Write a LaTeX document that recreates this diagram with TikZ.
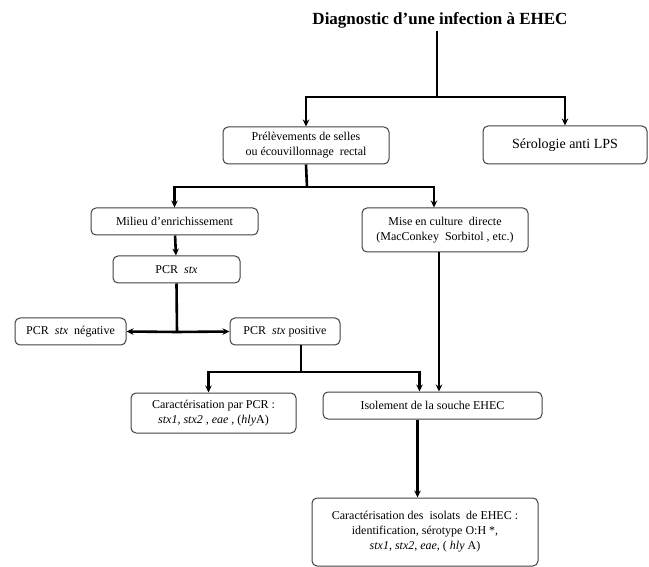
\documentclass[tikz,border=0pt]{standalone}
\usepackage{fontspec}
\setmainfont{Liberation Serif}
\usetikzlibrary{arrows.meta}
\tikzset{box/.style={draw=black!75,line width=1pt,rounded corners=5pt,align=center,inner sep=2pt,font=\fontsize{12}{15}\selectfont}}

\begin{document}
\begin{tikzpicture}[x=1pt,y=-1pt,
        link/.style={line width=2.6pt},
        arr/.style={line width=2.6pt,-{Stealth[length=7pt,width=6.5pt]}}]
    \useasboundingbox (0,0) rectangle (649,567);
        \node (title) at (440,20) {\fontsize{17}{19}\selectfont\bfseries Diagnostic d'une infection à EHEC};
        \node[box,minimum width=166pt,minimum height=37pt] (prel) at (306,145.5) {Prélèvements de selles\\ou écouvillonnage\ \ rectal};
        \node[box,minimum width=164pt,minimum height=38pt,font=\fontsize{14}{16}\selectfont] (sero) at (565,145) {Sérologie anti LPS};
        \node[box,minimum width=167pt,minimum height=27pt] (milieu) at (174.5,221.5) {Milieu d'enrichissement};
        \node[box,minimum width=166pt,minimum height=44pt] (mise) at (445,230) {Mise\ en culture\ \ directe\\(MacConkey\ \ Sorbitol , etc.)};
        \node[box,minimum width=127pt,minimum height=27pt] (pcr) at (176.5,269.5) {PCR\ \ \textit{stx}};
        \node[box,minimum width=111pt,minimum height=27pt] (neg) at (70.5,331.5) {PCR\ \ \textit{stx}\ \ négative};
        \node[box,minimum width=110pt,minimum height=27pt] (pos) at (285,331.5) {PCR\ \ \textit{stx} positive};
        \node[box,minimum width=165pt,minimum height=40pt] (carpcr) at (213.5,413) {Caractérisation par PCR :\\\textit{stx1}, \textit{stx2} , \textit{eae} , (\textit{hly}A)};
        \node[box,minimum width=219pt,minimum height=27pt] (isol) at (432.5,405.5) {Isolement de la souche EHEC};
        \node[box,minimum width=226pt,minimum height=68pt] (isolats) at (425,532) {Caractérisation des\ \ isolats\ \ de EHEC :\\identification, sérotype O:H *,\\\textit{stx1}, \textit{stx2}, \textit{eae}, ( \textit{hly} A)};

        \coordinate (j1) at (437,97);
        \coordinate (j2) at (307,187);
        \coordinate (j3) at (177,332);
        \coordinate (j4) at (301,372);

        \draw[link] (j1 |- title.south) -- (j1);
        \draw[arr] (j1) -| (prel.north);
        \draw[arr] (j1) -| (sero.north);
        \draw[link] (prel.south) -- (j2);
        \draw[arr] (j2) -| (milieu.north);
        \draw[arr] (j2) -| ([xshift=-11pt]mise.north);
        \draw[arr] (milieu) -- (pcr);
        \draw[link] (pcr.south) -- (j3);
        \draw[arr] (j3) -- (neg.east);
        \draw[arr] (j3) -- (pos.west);
        \draw[link] ([xshift=16pt]pos.south) -- (j4);
        \draw[arr] (j4) -| ([xshift=-5pt]carpcr.north);
        \draw[arr] (j4) -| ([xshift=-13pt]isol.north);
        \draw[arr] ([xshift=-6pt]mise.south) -- ([xshift=-6pt]mise.south |- isol.north);
        \draw[arr] ([xshift=-15pt]isol.south) -- ([xshift=-15pt]isol.south |- isolats.north);
\end{tikzpicture}
\end{document}
